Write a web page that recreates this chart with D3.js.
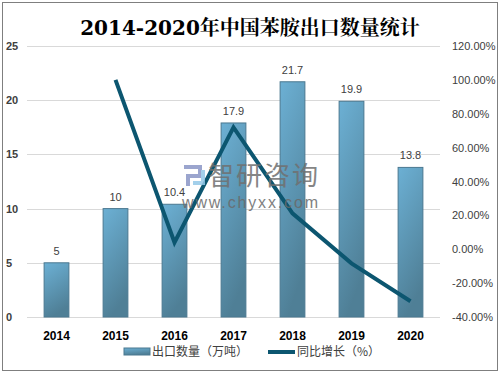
<!DOCTYPE html>
<html>
<head>
<meta charset="utf-8">
<script src="https://cdn.jsdelivr.net/npm/d3@7"></script>
<style>
	body { margin: 0; background: #fff; }
	svg { display: block; }
</style>
</head>
<body>
<svg id="chart" width="500" height="375"></svg>
<script>
// Chart data
const years = ["2014", "2015", "2016", "2017", "2018", "2019", "2020"];
const exportVolume = [5, 10, 10.4, 17.9, 21.7, 19.9, 13.8];
const growthRate = [null, 100, 4, 72, 21.2, -8.3, -30.7];
const leftTicks = [0, 5, 10, 15, 20, 25];
const rightTicks = [-40, -20, 0, 20, 40, 60, 80, 100, 120];

const svg = d3.select("#chart");
const margin = { top: 46, right: 60, bottom: 58, left: 27 };
const width = 500, height = 375;
const plotW = width - margin.left - margin.right;
const plotH = height - margin.top - margin.bottom;

// outer frame
svg.append("rect")
	.attr("x", 2.5).attr("y", 2.5)
	.attr("width", 495).attr("height", 368)
	.attr("fill", "#fff").attr("stroke", "#7f7f7f");

const defs = svg.append("defs");
const grad = defs.append("linearGradient")
	.attr("id", "barGrad")
	.attr("x1", 0).attr("y1", 0).attr("x2", 0.3).attr("y2", 1);
grad.append("stop").attr("offset", "0%").attr("stop-color", "#6cb0d4");
grad.append("stop").attr("offset", "100%").attr("stop-color", "#4f7f96");

svg.append("text")
	.attr("x", 250).attr("y", 35)
	.attr("text-anchor", "middle")
	.style("font", "bold 20px 'DejaVu Serif', 'Noto Serif CJK SC', serif")
	.style("fill", "#000")
	.text("2014-2020年中国苯胺出口数量统计");

const g = svg.append("g").attr("transform", `translate(${margin.left},${margin.top})`);

const x = d3.scaleBand().domain(years).range([0, plotW]).paddingInner(0.58).paddingOuter(0.29);
const y = d3.scaleLinear().domain([0, 25]).range([plotH, 0]);
const y2 = d3.scaleLinear().domain([-40, 120]).range([plotH, 0]);

// gridlines
g.append("g")
	.selectAll("line")
	.data(leftTicks)
	.join("line")
	.attr("x1", 0).attr("x2", plotW)
	.attr("y1", (d) => Math.round(y(d)) + 0.5)
	.attr("y2", (d) => Math.round(y(d)) + 0.5)
	.attr("stroke", "#d9d9d9");

// left axis
const leftAxis = g.append("g")
	.call(d3.axisLeft(y).tickValues(leftTicks).tickSize(0).tickPadding(0));
leftAxis.select(".domain").remove();
leftAxis.selectAll("text")
	.attr("x", -21).attr("text-anchor", "start")
	.style("font", "bold 11px 'Liberation Sans', Arial, sans-serif")
	.style("fill", "#404040");

// right axis
const rightAxis = g.append("g")
	.attr("transform", `translate(${plotW},0)`)
	.call(d3.axisRight(y2).tickValues(rightTicks).tickSize(0).tickPadding(12)
		.tickFormat((d) => d.toFixed(2) + "%"));
rightAxis.select(".domain").remove();
rightAxis.selectAll("text")
	.style("font", "11px 'Liberation Sans', Arial, sans-serif")
	.style("fill", "#404040");

// bars
g.append("g")
	.selectAll("rect")
	.data(exportVolume)
	.join("rect")
	.attr("x", (d, i) => x(years[i]))
	.attr("y", (d) => y(d))
	.attr("width", x.bandwidth())
	.attr("height", (d) => plotH - y(d))
	.attr("fill", "url(#barGrad)")
	.attr("stroke", "#4a7890")
	.attr("stroke-width", 1);

// bar labels
g.append("g")
	.selectAll("text")
	.data(exportVolume)
	.join("text")
	.attr("x", (d, i) => x(years[i]) + x.bandwidth() / 2)
	.attr("y", (d) => y(d) - 8)
	.attr("text-anchor", "middle")
	.style("font", "11px 'Liberation Sans', Arial, sans-serif")
	.style("fill", "#404040")
	.text((d) => d);

// x axis labels
g.append("g")
	.selectAll("text")
	.data(years)
	.join("text")
	.attr("x", (d) => x(d) + x.bandwidth() / 2)
	.attr("y", plotH + 23)
	.attr("text-anchor", "middle")
	.style("font", "bold 12px 'Liberation Sans', Arial, sans-serif")
	.style("fill", "#000")
	.text((d) => d);

// watermark (drawn over bars, under the line)
const wm = svg.append("g").style("opacity", 0.85);
wm.append("path")
	.attr("d", "M184,167 h16 v9 h-12 v10")
	.attr("fill", "none").attr("stroke", "#8a96c6").attr("stroke-width", 4);
wm.append("path")
	.attr("d", "M203,170 v13 h-10")
	.attr("fill", "none").attr("stroke", "#93c8e8").attr("stroke-width", 4);
wm.append("text")
	.attr("x", 208).attr("y", 185)
	.attr("textLength", 110)
	.style("font", "26px 'Noto Sans CJK SC', sans-serif")
	.style("fill", "#707070")
	.text("智研咨询");
wm.append("text")
	.attr("x", 182).attr("y", 208)
	.attr("textLength", 136)
	.attr("lengthAdjust", "spacing")
	.style("font", "16px 'Liberation Sans', Arial, sans-serif")
	.style("fill", "#6a6a6a")
	.text("www.chyxx.com");

// growth line
const line = d3.line()
	.defined((d) => d !== null)
	.x((d, i) => x(years[i]) + x.bandwidth() / 2)
	.y((d) => y2(d));
g.append("path")
	.datum(growthRate)
	.attr("d", line)
	.attr("fill", "none")
	.attr("stroke", "#0c5670")
	.attr("stroke-width", 4);

// legend
const legend = svg.append("g").attr("transform", "translate(0,352)");
legend.append("rect")
	.attr("x", 124).attr("y", -4).attr("width", 26).attr("height", 7)
	.attr("fill", "url(#barGrad)").attr("stroke", "#4a7890");
legend.append("text")
	.attr("x", 152).attr("y", 4)
	.style("font", "12px 'Noto Sans CJK SC', sans-serif")
	.style("fill", "#404040")
	.text("出口数量（万吨）");
legend.append("line")
	.attr("x1", 268).attr("x2", 295).attr("y1", 0).attr("y2", 0)
	.attr("stroke", "#0c5670").attr("stroke-width", 4);
legend.append("text")
	.attr("x", 297).attr("y", 4)
	.style("font", "12px 'Noto Sans CJK SC', sans-serif")
	.style("fill", "#404040")
	.text("同比增长（%）");
</script>
</body>
</html>
